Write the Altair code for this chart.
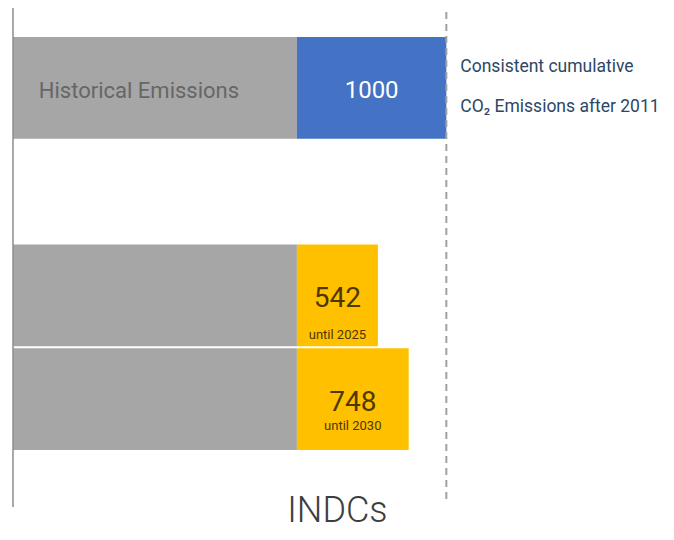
import altair as alt
import pandas as pd

# ---- data ----
rows = ["Historical", "gap", "INDC 2025", "INDC 2030"]
historical = 1900          # cumulative historical CO2 emissions (GtCO2)
budget = 1000              # consistent cumulative CO2 emissions after 2011
indc_rows = ["INDC 2025", "INDC 2030"]
indc_values = [542, 748]
indc_labels = ["until 2025", "until 2030"]

FONT = "Roboto"

seg = []
seg.append({"row": "Historical", "start": 0, "end": historical, "kind": "hist"})
seg.append({"row": "Historical", "start": historical, "end": historical + budget, "kind": "budget"})
for r, v in zip(indc_rows, indc_values):
    seg.append({"row": r, "start": 0, "end": historical, "kind": "hist"})
    seg.append({"row": r, "start": historical, "end": historical + v, "kind": "indc"})
bars_df = pd.DataFrame(seg)

indc_df = pd.DataFrame({
    "row": indc_rows,
    "mid": [historical + v / 2 for v in indc_values],
    "value": [str(v) for v in indc_values],
    "label": indc_labels,
})

xs = alt.Scale(domain=[0, 4350], nice=False, zero=True)
ys = alt.Scale(domain=rows, paddingInner=0.02, paddingOuter=0)

bars = alt.Chart(bars_df).mark_bar(cornerRadius=0).encode(
    x=alt.X("start:Q", scale=xs, axis=None),
    x2="end:Q",
    y=alt.Y("row:N", scale=ys, axis=None),
    color=alt.Color("kind:N",
                    scale=alt.Scale(domain=["hist", "budget", "indc"],
                                    range=["#a6a6a6", "#4472c4", "#ffc000"]),
                    legend=None),
)

axis_line = alt.Chart(pd.DataFrame({"x": [0]})).mark_rule(
    color="#8c8c8c", strokeWidth=1.5
).encode(x=alt.X("x:Q", scale=xs), y=alt.value(-34), y2=alt.value(470))

budget_line = alt.Chart(pd.DataFrame({"x": [historical + budget]})).mark_rule(
    color="#a0a0a0", strokeWidth=2, strokeDash=[7, 5]
).encode(x=alt.X("x:Q", scale=xs), y=alt.value(-37), y2=alt.value(465))

top_df = pd.DataFrame({
    "row": ["Historical", "Historical"],
    "x": [historical / 2, historical + budget / 2],
    "t": ["Historical Emissions", str(budget)],
})
hist_text = alt.Chart(top_df.iloc[[0]]).mark_text(
    font=FONT, fontSize=22, baseline="middle", dx=-16, dy=3, color="#666666"
).encode(x=alt.X("x:Q", scale=xs), y=alt.Y("row:N", scale=ys), text="t:N")
budget_text = alt.Chart(top_df.iloc[[1]]).mark_text(
    font=FONT, fontSize=24, baseline="middle", dy=3, color="#ffffff"
).encode(x=alt.X("x:Q", scale=xs), y=alt.Y("row:N", scale=ys), text="t:N")

right_df = pd.DataFrame({
    "row": ["Historical", "Historical"],
    "x": [historical + budget, historical + budget],
    "t": ["Consistent cumulative", "CO\u2082 Emissions after 2011"],
})
right1 = alt.Chart(right_df.iloc[[0]]).mark_text(
    font=FONT, fontSize=17.5, align="left", baseline="alphabetic", dx=14, dy=-16,
    color="#2c4766"
).encode(x=alt.X("x:Q", scale=xs), y=alt.Y("row:N", scale=ys), text="t:N")
right2 = alt.Chart(right_df.iloc[[1]]).mark_text(
    font=FONT, fontSize=17.5, align="left", baseline="alphabetic", dx=14, dy=24,
    color="#2c4766"
).encode(x=alt.X("x:Q", scale=xs), y=alt.Y("row:N", scale=ys), text="t:N")

num_text = alt.Chart(indc_df).mark_text(
    font=FONT, fontSize=28, baseline="alphabetic", dy=12, color="#4d3800"
).encode(x=alt.X("mid:Q", scale=xs), y=alt.Y("row:N", scale=ys), text="value:N")

until_2025 = alt.Chart(indc_df.iloc[[0]]).mark_text(
    font=FONT, fontSize=13, baseline="alphabetic", dy=44, color="#4d3800"
).encode(x=alt.X("mid:Q", scale=xs), y=alt.Y("row:N", scale=ys), text="label:N")
until_2030 = alt.Chart(indc_df.iloc[[1]]).mark_text(
    font=FONT, fontSize=13, baseline="alphabetic", dy=31, color="#4d3800"
).encode(x=alt.X("mid:Q", scale=xs), y=alt.Y("row:N", scale=ys), text="label:N")

indc_title = alt.Chart(indc_df.iloc[[0]]).mark_text(
    font=FONT, fontSize=36, fontWeight=300, baseline="alphabetic", dy=227,
    color="#3d3d3d"
).encode(x=alt.X("mid:Q", scale=xs), y=alt.Y("row:N", scale=ys),
         text=alt.value("INDCs"))

chart = alt.layer(
    bars, axis_line, budget_line, hist_text, budget_text, right1, right2,
    num_text, until_2025, until_2030, indc_title
).properties(
    width=650, height=413,
    autosize=alt.AutoSizeParams(type="none"),
    padding={"left": 5, "top": 29, "right": 3, "bottom": 82},
).configure(
    background="#ffffff",
    view=alt.ViewConfig(stroke="transparent", strokeWidth=0),
)

chart.save("out.html", embed_options={"renderer": "svg", "actions": False})
